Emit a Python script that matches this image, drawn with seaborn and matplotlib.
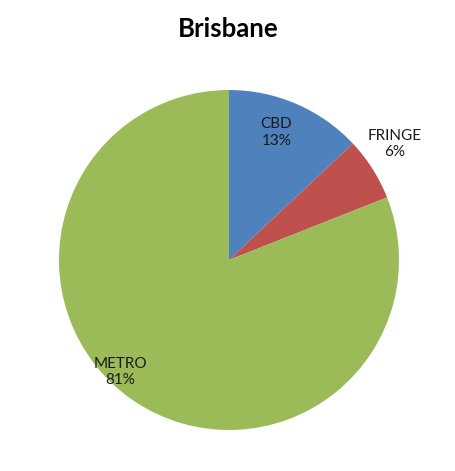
import numpy as np
import matplotlib
matplotlib.use("Agg")
import matplotlib.pyplot as plt
import seaborn as sns

sns.set_theme(style="white")
plt.rcParams['font.family'] = ['Lato', 'DejaVu Sans']

regions = ["CBD", "FRINGE", "METRO"]
shares = [13, 6, 81]
colors = ["#4F81BD", "#C0504D", "#9BBB59"]

# label placement per slice: (radius factor, angle shift in degrees)
label_style = [(0.80, 3.0), (1.19, 2.5), (0.92, -10.0)]

fig = plt.figure(figsize=(4.56, 4.71), dpi=100)
ax = fig.add_axes([59 / 456, 41 / 471, 340 / 456, 340 / 471])

wedges, _ = ax.pie(shares, colors=colors, startangle=90, counterclock=False,
                   radius=1.0, wedgeprops=dict(linewidth=0))
ax.set_xlim(-1, 1)
ax.set_ylim(-1, 1)
ax.set_aspect('equal')

total = sum(shares)
before = np.cumsum([0] + shares[:-1])
for name, val, b, (rf, shift) in zip(regions, shares, before, label_style):
    mid = np.deg2rad(90 - 360 * (b + val / 2) / total + shift)
    ax.text(rf * np.cos(mid), rf * np.sin(mid), f"{name}\n{val}%",
            ha='center', va='center', fontsize=11, color='#1a1a1a',
            linespacing=1.2)

fig.text(0.5, 1 - 29 / 471, "Brisbane", ha='center', va='center',
         fontsize=18.5, fontweight='bold', color='black')

fig.savefig("out.png", dpi=100, facecolor='white')
